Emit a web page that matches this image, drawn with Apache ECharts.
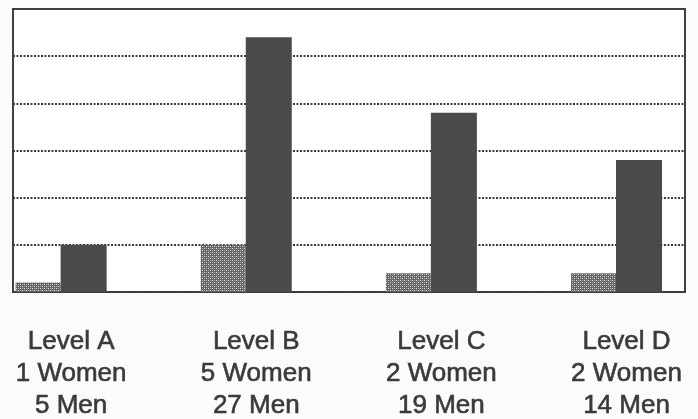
<!DOCTYPE html>
<html><head><meta charset="utf-8">
<script src="https://cdn.jsdelivr.net/npm/echarts@6/dist/echarts.min.js"></script>
<style>html,body{margin:0;padding:0;background:#fbfbfb}#c{width:698px;height:419px}</style>
</head><body><div id="c"></div>
<script>
const levels = ['Level A', 'Level B', 'Level C', 'Level D'];
const women = [1, 5, 2, 2];
const men = [5, 27, 19, 14];
const positions = [0, 1, 2, 3];
const yTicks = [0, 5, 10, 15, 20, 25, 30];

// stippled fill for women bars
const pc = document.createElement('canvas');
pc.width = 4; pc.height = 4;
const g = pc.getContext('2d');
g.fillStyle = '#666666'; g.fillRect(0, 0, 4, 4);
g.fillStyle = '#e0e0e0';
g.fillRect(0, 0, 1, 1); g.fillRect(2, 2, 1, 1);
g.fillStyle = '#a8a8a8';
g.fillRect(2, 0, 1, 1); g.fillRect(0, 2, 1, 1);

const chart = echarts.init(document.getElementById('c'), null, {renderer: 'canvas'});
chart.setOption({
  animation: false,
  backgroundColor: '#fbfbfb',
  grid: {left: 13, right: 13, top: 9, bottom: 127, show: true, outerBoundsMode: 'none',
         containLabel: false,
         borderColor: '#404040', borderWidth: 2, backgroundColor: '#ffffff'},
  xAxis: {
    type: 'value', min: -0.26, max: 3.37,
    axisLine: {show: false}, axisTick: {show: false}, splitLine: {show: false},
    axisLabel: {
      customValues: positions,
      hideOverlap: false,
      formatter: function (v) {
        const i = Math.round(v);
        return levels[i] + '\n' + women[i] + ' Women\n' + men[i] + ' Men';
      },
      fontFamily: 'Liberation Sans, Arial, sans-serif',
      fontSize: 26, lineHeight: 32, color: '#3a3a3a',
      textBorderColor: '#3a3a3a', textBorderWidth: 0.6,
      margin: 34, padding: [0, 0, 0, 20]
    }
  },
  yAxis: {
    type: 'value', min: yTicks[0], max: yTicks[yTicks.length - 1], interval: 5,
    axisLabel: {show: false}, axisLine: {show: false}, axisTick: {show: false},
    splitLine: {show: true, lineStyle: {color: '#3a3a3a', width: 2, type: [2, 1.5]}}
  },
  series: [
    {name: 'Women', type: 'bar', barWidth: 45, barGap: '0%',
     itemStyle: {color: {image: pc, repeat: 'repeat'}},
     data: positions.map((p, i) => [p, women[i]])},
    {name: 'Men', type: 'bar', barWidth: 46, barGap: '0%',
     itemStyle: {color: '#4a4a4a'},
     data: positions.map((p, i) => [p, men[i]])}
  ]
});
</script></body></html>
